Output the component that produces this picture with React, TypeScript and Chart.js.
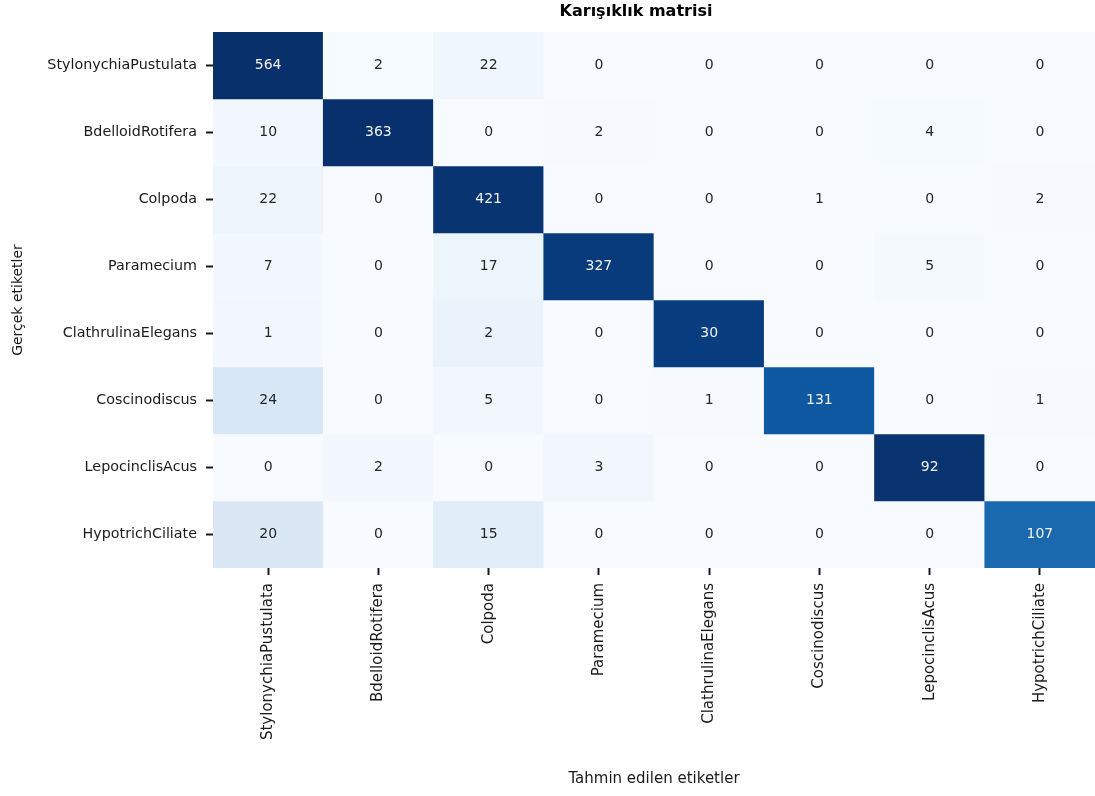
import React, { useEffect, useRef } from "react";
import { Chart, registerables } from "chart.js";

Chart.register(...registerables);

const trueLabels = [
  "StylonychiaPustulata",
  "BdelloidRotifera",
  "Colpoda",
  "Paramecium",
  "ClathrulinaElegans",
  "Coscinodiscus",
  "LepocinclisAcus",
  "HypotrichCiliate",
];
const predLabels = [...trueLabels];

const rowStylonychia = [564, 2, 22, 0, 0, 0, 0, 0];
const rowBdelloid = [10, 363, 0, 2, 0, 0, 4, 0];
const rowColpoda = [22, 0, 421, 0, 0, 1, 0, 2];
const rowParamecium = [7, 0, 17, 327, 0, 0, 5, 0];
const rowClathrulina = [1, 0, 2, 0, 30, 0, 0, 0];
const rowCoscinodiscus = [24, 0, 5, 0, 1, 131, 0, 1];
const rowLepocinclis = [0, 2, 0, 3, 0, 0, 92, 0];
const rowHypotrich = [20, 0, 15, 0, 0, 0, 0, 107];

const matrix = [
  rowStylonychia,
  rowBdelloid,
  rowColpoda,
  rowParamecium,
  rowClathrulina,
  rowCoscinodiscus,
  rowLepocinclis,
  rowHypotrich,
];

const titleText = "Karışıklık matrisi";
const xTitle = "Tahmin edilen etiketler";
const yTitle = "Gerçek etiketler";

// matplotlib "Blues" anchors
const BLUES: [number, number, number][] = [
  [247, 251, 255],
  [222, 235, 247],
  [198, 219, 239],
  [158, 202, 225],
  [107, 174, 214],
  [66, 146, 198],
  [33, 113, 181],
  [8, 81, 156],
  [8, 48, 107],
];

function blues(t: number): string {
  const v = Math.max(0, Math.min(1, t)) * (BLUES.length - 1);
  const i = Math.min(BLUES.length - 2, Math.floor(v));
  const f = v - i;
  const a = BLUES[i];
  const b = BLUES[i + 1];
  const c = a.map((x, k) => Math.round(x + (b[k] - x) * f));
  return `rgb(${c[0]},${c[1]},${c[2]})`;
}

const normalized = matrix.map((row) => {
  const s = row.reduce((p, q) => p + q, 0);
  return row.map((v) => v / s);
});
const maxNorm = Math.max(...normalized.flat());

const FONT = "'DejaVu Sans', sans-serif";

export default function App() {
  const ref = useRef<HTMLCanvasElement | null>(null);

  useEffect(() => {
    document.body.style.margin = "0";
    const canvas = ref.current;
    if (!canvas) return;

    const datasets = matrix.map((row, r) => ({
      label: trueLabels[r],
      data: row.map(() => [r, r + 1] as [number, number]),
      backgroundColor: normalized[r].map((v) => blues(v / maxNorm)),
      borderWidth: 0,
      barPercentage: 1,
      categoryPercentage: 1,
      grouped: false,
    }));

    const cellText = {
      id: "cellText",
      afterLayout(chart: any) {
        const tb = chart.titleBlock;
        if (tb) {
          tb.left -= 18;
          tb.right -= 18;
        }
      },
      afterDatasetsDraw(chart: any) {
        const ctx = chart.ctx;
        ctx.save();
        ctx.font = `14px ${FONT}`;
        ctx.textAlign = "center";
        ctx.textBaseline = "middle";
        matrix.forEach((row, r) => {
          const meta = chart.getDatasetMeta(r);
          row.forEach((v, c) => {
            const el = meta.data[c];
            if (!el) return;
            const cy = (el.y + el.base) / 2;
            const t = normalized[r][c] / maxNorm;
            ctx.fillStyle = t > 0.5 ? "#f2f2f2" : "#262626";
            ctx.fillText(String(v), el.x, cy);
          });
        });
        ctx.restore();
      },
    };

    const chart = new Chart(canvas, {
      type: "bar",
      data: { labels: predLabels, datasets: datasets as any },
      options: {
        responsive: false,
        animation: false,
        devicePixelRatio: 1,
        layout: { padding: 0 },
        plugins: {
          legend: { display: false },
          tooltip: { enabled: false },
          title: {
            display: true,
            text: titleText,
            fullSize: false,
            color: "#000",
            font: { family: FONT, size: 16, weight: "bold" },
            padding: { top: 2, bottom: 10.8 },
          },
        },
        scales: {
          x: {
            type: "category",
            offset: true,
            border: { display: false },
            grid: {
              display: true,
              offset: false,
              drawOnChartArea: false,
              drawTicks: true,
              tickLength: 7,
              tickWidth: 2,
              tickColor: "#1a1a1a",
            },
            ticks: {
              autoSkip: false,
              minRotation: 90,
              maxRotation: 90,
              padding: 8,
              color: "#1a1a1a",
              font: { family: FONT, size: 15 },
            },
            title: {
              display: true,
              text: xTitle,
              color: "#1a1a1a",
              font: { family: FONT, size: 15 },
              padding: { top: 0, bottom: 8 },
            },
            afterFit(scale: any) {
              scale.height = 228;
            },
          },
          y: {
            type: "linear",
            min: 0,
            max: 8,
            reverse: true,
            border: { display: false },
            grid: {
              display: true,
              drawOnChartArea: false,
              drawTicks: true,
              tickLength: 7,
              tickWidth: 2,
              tickColor: "#1a1a1a",
            },
            afterBuildTicks(scale: any) {
              scale.ticks = trueLabels.map((_, i) => ({ value: i + 0.5 }));
            },
            ticks: {
              padding: 9,
              color: "#1a1a1a",
              font: { family: FONT, size: 14.3 },
              callback: (v: any) => trueLabels[Math.floor(Number(v))] ?? "",
            },
            title: {
              display: true,
              text: yTitle,
              color: "#1a1a1a",
              font: { family: FONT, size: 14 },
              padding: { top: 9.6, bottom: 0 },
            },
            afterFit(scale: any) {
              scale.width = 213;
            },
          },
        },
      },
      plugins: [cellText],
    });

    return () => chart.destroy();
  }, []);

  return (
    <canvas
      ref={ref}
      width={1095}
      height={796}
      style={{ display: "block", width: 1095, height: 796 }}
    />
  );
}
